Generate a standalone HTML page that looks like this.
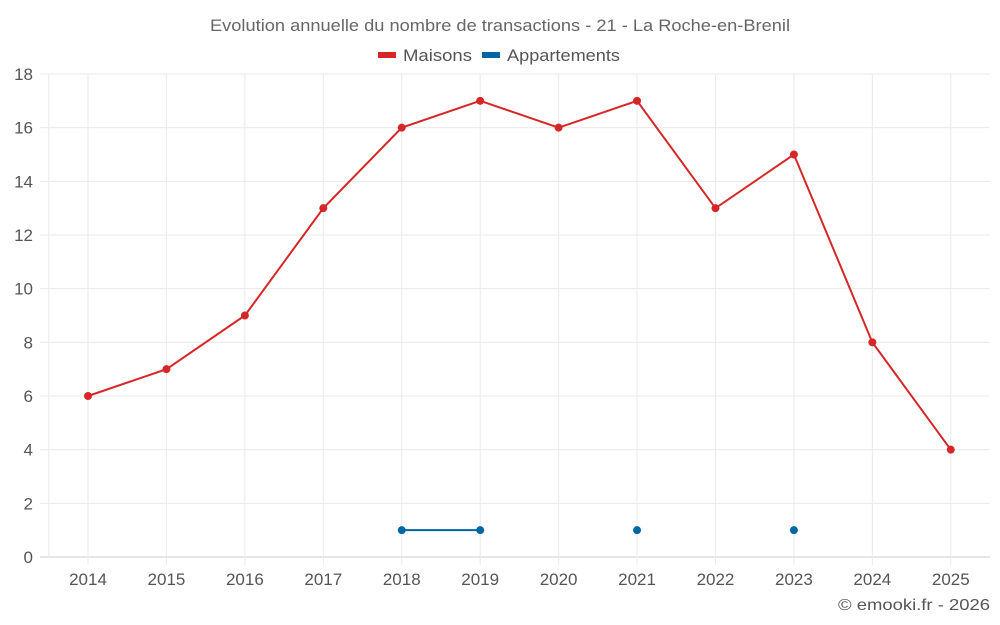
<!DOCTYPE html>
<html><head><meta charset="utf-8"><style>
html,body{margin:0;padding:0;background:#fff;width:1000px;height:625px;overflow:hidden}
svg text{font-family:"Liberation Sans",sans-serif}
</style></head><body>
<svg id="chart" width="1000" height="625">
<text x="500" y="31" text-anchor="middle" font-size="17" fill="#666" textLength="580" lengthAdjust="spacingAndGlyphs">Evolution annuelle du nombre de transactions - 21 - La Roche-en-Brenil</text>
<g>
<g><rect x="378" y="52" width="18" height="6" fill="#d62728"/><text x="403" y="61" font-size="17" fill="#555" textLength="69" lengthAdjust="spacingAndGlyphs">Maisons</text></g>
<g><rect x="482" y="52" width="18" height="6" fill="#0066a1"/><text x="507" y="61" font-size="17" fill="#555" textLength="113" lengthAdjust="spacingAndGlyphs">Appartements</text></g>
</g>
<g id="grid"></g><g id="axes"></g><g id="series"></g>
<text x="990" y="610" text-anchor="end" font-size="16" fill="#555" textLength="152" lengthAdjust="spacingAndGlyphs">© emooki.fr - 2026</text>
</svg>
<script>
const years=[2014,2015,2016,2017,2018,2019,2020,2021,2022,2023,2024,2025];
const maisons=[6,7,9,13,16,17,16,17,13,15,8,4];
const appartements=[null,null,null,null,1,1,null,1,null,1,null,null];
const yTicks=[0,2,4,6,8,10,12,14,16,18];
const NS="http://www.w3.org/2000/svg";
const L=48.8,R=990,T=74,B=557,yMax=18;
const step=(R-L)/years.length;
const x=i=>L+step*(i+0.5);
const y=v=>B-(v/yMax)*(B-T);
function mk(tag,attrs,parent,text){const e=document.createElementNS(NS,tag);for(const k in attrs)e.setAttribute(k,attrs[k]);if(text!==undefined)e.textContent=text;document.getElementById(parent).appendChild(e);return e;}
yTicks.forEach(t=>{
 const g=mk('line',{x1:40,x2:R,y1:y(t),y2:y(t),stroke:t===0?'#ccc':'#eaeaea','stroke-width':1},'grid');
 
 
 const l=mk('text',{x:33,y:y(t)+6,'text-anchor':'end','font-size':17,fill:'#555'},'axes',t);
 
 
});
const lb=mk('line',{x1:L,x2:L,y1:T,y2:B,stroke:'#eaeaea'},'grid');


years.forEach((yr,i)=>{
 const g=mk('line',{x1:x(i),x2:x(i),y1:T,y2:B+8,stroke:'#eaeaea'},'grid');
 
 
 const l=mk('text',{x:x(i),y:585,'text-anchor':'middle','font-size':17,fill:'#555'},'axes',yr);
 
 
});
function drawSeries(vals,color,name){
 let seg=[];const segs=[];
 vals.forEach((v,i)=>{if(v===null){if(seg.length)segs.push(seg);seg=[];}else seg.push([x(i),y(v)]);});
 if(seg.length)segs.push(seg);
 segs.forEach(s=>{if(s.length>1){const p=mk('polyline',{points:s.map(q=>q.join(',')).join(' '),fill:'none',stroke:color,'stroke-width':2},'series');
  
  }});
 vals.forEach((v,i)=>{if(v!==null){const c=mk('circle',{cx:x(i),cy:y(v),r:4,fill:color},'series');
  
  }});
}
drawSeries(maisons,'#d62728','maisons');
drawSeries(appartements,'#0066a1','appartements');
</script>
</body></html>
